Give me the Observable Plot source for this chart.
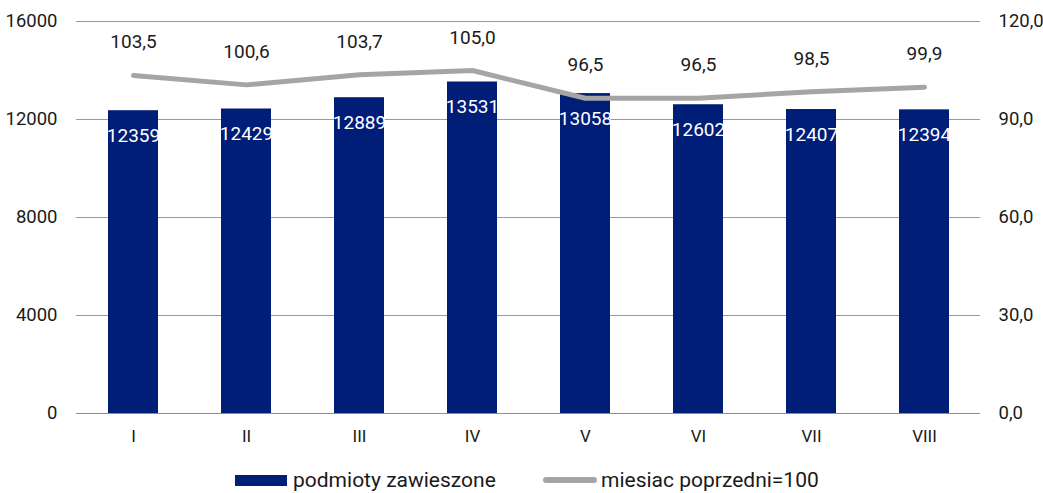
<!DOCTYPE html>
<html>
<head>
<meta charset="utf-8">
<script src="https://cdn.jsdelivr.net/npm/d3@7"></script>
<script src="https://cdn.jsdelivr.net/npm/@observablehq/plot@0.6"></script>
<style>
  html, body { margin: 0; padding: 0; background: #fff; }
  body { width: 1043px; height: 493px; overflow: hidden; font-family: Roboto, "Noto Sans", sans-serif; }
  #legend { position: relative; height: 27px; font-size: 21px; line-height: 24px; color: #1a1a1a; }
  .item { position: absolute; top: 2px; display: flex; align-items: center; white-space: nowrap; }
  .sw1 { width: 52px; height: 11px; background: #001D77; margin-right: 6px; }
  .sw2 { width: 54px; height: 6px; border-radius: 3px; background: #A5A5A5; margin-right: 4px; }
</style>
</head>
<body>
<div id="chart"></div>
<div id="legend">
  <div class="item" style="left:235px"><span class="sw1"></span>podmioty zawieszone</div>
  <div class="item" style="left:543px"><span class="sw2"></span>miesiac poprzedni=100</div>
</div>
<script>
const months = ["I", "II", "III", "IV", "V", "VI", "VII", "VIII"];
const suspended = [12359, 12429, 12889, 13531, 13058, 12602, 12407, 12394];
const indexPrev = [103.5, 100.6, 103.7, 105.0, 96.5, 96.5, 98.5, 99.9];
const leftTicks = [0, 4000, 8000, 12000, 16000];
const rightTicks = [0, 30, 60, 90, 120];

const LEFT_MAX = 16000, RIGHT_MAX = 120;
const toLeft = v => v * LEFT_MAX / RIGHT_MAX;
const fmtComma = v => v.toFixed(1).replace(".", ",");

const rows = months.map((m, i) => ({ m, bar: suspended[i], idx: indexPrev[i] }));

const chart = Plot.plot({
  width: 1043,
  height: 466,
  marginTop: 21,
  marginBottom: 53,
  marginLeft: 76,
  marginRight: 63,
  style: { fontFamily: "Roboto, 'Noto Sans', sans-serif", fontSize: "18px", color: "#1a1a1a", background: "#fff" },
  x: { domain: months, paddingInner: 0.56, paddingOuter: 0.28, label: null },
  y: { domain: [0, LEFT_MAX], label: null },
  marks: [
    Plot.ruleY(leftTicks.slice(1), { stroke: "#9a9a9a", strokeWidth: 1 }),
    Plot.barY(rows, { x: "m", y: "bar", fill: "#001D77" }),
    Plot.ruleY([0], { stroke: "#8c8c8c", strokeWidth: 1.2 }),
    Plot.line(rows, { x: "m", y: d => toLeft(d.idx), stroke: "#A5A5A5", strokeWidth: 5, strokeLinecap: "round", strokeLinejoin: "round" }),
    Plot.text(rows, { x: "m", y: "bar", text: d => String(d.bar), dy: 25, fill: "#ffffff", fontSize: 19 }),
    Plot.text(rows, { x: "m", y: d => toLeft(d.idx), text: d => fmtComma(d.idx), dy: -33, fill: "#1a1a1a", fontSize: 19 }),
    Plot.axisX({ tickSize: 0, tickPadding: 16, fontSize: 17, label: null }),
    Plot.axisY({ ticks: leftTicks, tickSize: 0, tickPadding: 19, fontSize: 18.5, label: null, tickFormat: d => String(d) }),
    Plot.axisY({ anchor: "right", ticks: rightTicks.map(toLeft), tickSize: 0, tickPadding: 18, fontSize: 18.5, label: null,
      tickFormat: d => fmtComma(d * RIGHT_MAX / LEFT_MAX) })
  ]
});
document.getElementById("chart").appendChild(chart);
</script>
</body>
</html>
